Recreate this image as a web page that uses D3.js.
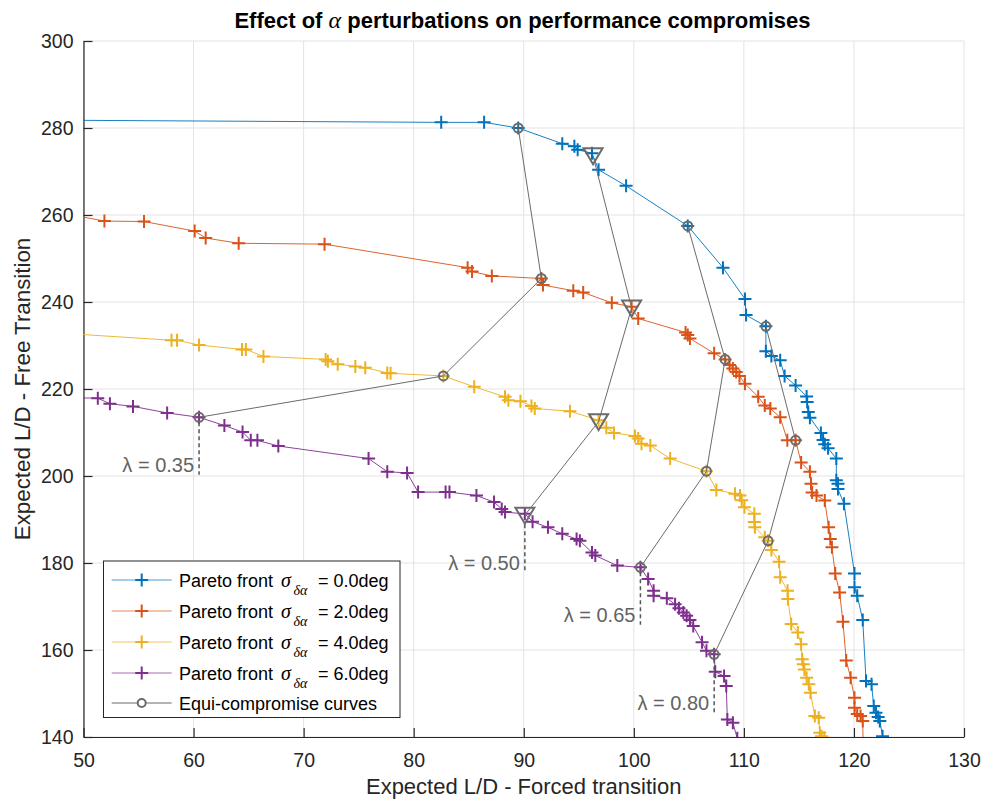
<!DOCTYPE html>
<html>
<head>
<meta charset="utf-8">
<script src="https://cdn.jsdelivr.net/npm/d3@7"></script>
<style>
  html, body { margin: 0; padding: 0; background: #fff; }
  svg { display: block; font-family: "Liberation Sans", Arial, Helvetica, sans-serif; }
</style>
</head>
<body>
<svg id="chart" width="983" height="800"></svg>
<script>
// ---------------- DATA ----------------
const seriesNames = ["0.0deg", "2.0deg", "4.0deg", "6.0deg"];
const seriesColors = ["#0072BD", "#D95319", "#EDB120", "#7E2F8E"];

const front0 = [[47,281.8],[82.5,281.3],[86.4,281.3],[89.5,280.0],[93.5,276.4],[94.6,275.8],[94.9,275.0],[96.2,274.2],[96.8,270.4],[99.3,266.7],[104.9,257.5],[108.1,247.9],[110.1,240.7],[110.2,237.0],[112.0,234.4],[112.0,228.7],[112.5,227.6],[113.3,226.6],[113.7,223.0],[114.7,220.8],[115.7,218.3],[115.75,217.0],[115.85,214.7],[116.0,213.4],[117.0,209.9],[117.2,208.3],[117.35,207.3],[117.65,206.4],[118.4,204.0],[118.4,199.0],[118.55,198.2],[118.55,197.0],[119.1,193.6],[120.05,177.6],[120.05,174.4],[120.3,172.5],[120.8,166.9],[121.1,152.9],[121.6,152.1],[121.8,147.1],[122.0,145.6],[122.2,144.6],[122.35,143.7],[122.6,140.2]];

const front2 = [[49,260.0],[51.9,258.6],[55.5,258.5],[60.1,256.3],[61.1,254.7],[64.1,253.5],[71.9,253.3],[84.9,247.9],[85.3,247.0],[87.1,246.0],[91.6,245.4],[91.75,243.9],[94.5,242.6],[95.4,242.2],[98.0,239.8],[99.8,238.9],[100.4,236.2],[104.7,233.0],[104.9,232.4],[105.1,231.6],[107.3,228.2],[108.3,226.8],[108.7,225.5],[109.0,224.7],[109.3,223.9],[109.6,223.0],[110.1,221.2],[111.3,218.2],[111.9,216.2],[112.4,215.5],[113.3,213.5],[113.95,208.2],[114.7,208.2],[115.2,203.1],[116.0,201.0],[116.1,198.2],[116.2,196.2],[116.6,195.5],[117.35,194.35],[117.7,188.2],[117.85,185.5],[118.0,183.6],[118.3,177.6],[118.7,173.2],[119.0,166.5],[119.3,157.6],[119.7,153.6],[120.05,149.0],[120.05,146.7],[120.3,145.3],[120.6,144.8],[120.8,143.7],[120.85,135]];

const front4 = [[47,233.0],[58.0,231.2],[58.5,231.2],[60.5,230.1],[64.4,229.1],[64.75,229.1],[66.35,227.5],[72.0,226.8],[72.2,226.4],[73.1,225.7],[74.7,225.2],[75.6,224.9],[77.6,223.7],[77.9,223.6],[82.7,223.0],[85.5,220.5],[88.3,218.2],[88.6,217.4],[89.7,217.2],[90.7,216.1],[91.0,215.5],[94.2,214.9],[96.8,212.8],[97.5,211.1],[98.2,209.9],[100.1,209.2],[100.4,208.6],[100.7,207.4],[101.5,207.0],[103.3,204.0],[106.6,201.1],[107.5,196.8],[109.2,195.9],[109.65,195.5],[109.8,194.4],[110.05,192.8],[110.95,191.3],[110.95,189.4],[111.0,188.2],[111.9,185.9],[112.2,185.1],[112.5,183.0],[113.2,180.3],[113.3,176.7],[113.97,173.6],[114.0,171.7],[114.3,166.0],[114.9,164.0],[115.2,161.3],[115.3,157.9],[115.4,156.7],[115.5,155.5],[115.7,153.6],[115.9,152.1],[116.05,150.2],[116.45,144.8],[116.8,144.4],[116.9,141.0],[117.06,140.2],[117.3,139.8]];

const front6 = [[48.5,218.0],[51.3,217.9],[52.4,216.6],[54.5,216.0],[57.6,214.5],[60.5,213.5],[62.8,211.6],[64.45,210.1],[65.2,208.2],[65.8,208.2],[67.7,206.9],[75.9,204.0],[77.6,201.0],[79.4,200.7],[80.4,196.3],[82.9,196.3],[83.25,196.3],[85.7,195.5],[87.3,194.0],[88.0,192.4],[88.3,191.7],[90.1,191.3],[90.8,189.5],[92.2,188.2],[93.5,186.7],[94.8,185.5],[95.1,185.1],[96.2,182.4],[96.5,181.7],[98.5,179.4],[100.6,179.0],[101.3,176.3],[101.8,173.6],[101.8,172.5],[103.0,171.9],[103.75,170.5],[104.1,169.6],[104.5,168.6],[104.8,167.9],[105.1,166.9],[105.4,165.5],[106.2,161.8],[106.6,159.8],[107.3,159.0],[107.4,155.0],[108.2,154.0],[108.4,151.7],[108.5,144.0],[109.0,143.3],[109.4,139.7]];

const fronts = [front0, front2, front4, front6];

// Equi-compromise curves (one point per front: sigma 0, 2, 4, 6)
const lambdas = [0.35, 0.50, 0.65, 0.80];
const equi035 = [[89.5,280.0],[91.6,245.4],[82.7,223.0],[60.5,213.5]];
const equi050 = [[96.3,273.6],[99.8,238.6],[96.8,212.5],[90.1,191.0]];
const equi065 = [[104.9,257.5],[108.3,226.8],[106.6,201.1],[100.6,179.0]];
const equi080 = [[112.0,234.4],[114.7,208.2],[112.2,185.1],[107.3,159.0]];
const equiCurves = [equi035, equi050, equi065, equi080];
const equiMarkers = ["circle", "triangle", "circle", "circle"];
// lambda annotation: dashed drop line lower end (y value)
const lambdaDropEnd = [200.3, 177.8, 165.8, 145.5];

const xTicks = [50,60,70,80,90,100,110,120,130];
const yTicks = [140,160,180,200,220,240,260,280,300];

// ---------------- CHART ----------------
const svg = d3.select("#chart");
const x = d3.scaleLinear().domain([50,130]).range([83.5,964]);
const y = d3.scaleLinear().domain([140,300]).range([737,41]);

svg.append("defs").append("clipPath").attr("id","plotclip")
  .append("rect").attr("x",83.5).attr("y",41).attr("width",964-83.5).attr("height",737-41);

// grid
const grid = svg.append("g");
grid.selectAll(".gx").data(xTicks).enter().append("line")
  .attr("x1",d=>x(d)).attr("x2",d=>x(d)).attr("y1",y(140)).attr("y2",y(300))
  .attr("stroke","#e3e3e3").attr("stroke-width",1);
grid.selectAll(".gy").data(yTicks).enter().append("line")
  .attr("y1",d=>y(d)).attr("y2",d=>y(d)).attr("x1",x(50)).attr("x2",x(130))
  .attr("stroke","#e3e3e3").attr("stroke-width",1);

// axes
const xAxis = svg.append("g").attr("transform",`translate(0,${y(140)})`)
  .call(d3.axisBottom(x).tickValues(xTicks).tickSizeInner(-9).tickSizeOuter(0).tickPadding(16));
const yAxis = svg.append("g").attr("transform",`translate(${x(50)},0)`)
  .call(d3.axisLeft(y).tickValues(yTicks).tickSizeInner(-9).tickSizeOuter(0).tickPadding(10));
[xAxis,yAxis].forEach(a=>{
  a.select(".domain").attr("stroke","#262626").attr("stroke-width",1.2);
  a.selectAll(".tick line").attr("stroke","#262626").attr("stroke-width",1.2);
  a.selectAll(".tick text").attr("fill","#262626").attr("font-size",19.5)
    .attr("font-family","'Liberation Sans', Arial, sans-serif");
});

const plot = svg.append("g").attr("clip-path","url(#plotclip)");
const line = d3.line().x(d=>x(d[0])).y(d=>y(d[1]));
const crossPath = "M-6.5,0H6.5M0,-6.5V6.5";

// fronts
fronts.forEach((f,i)=>{
  plot.append("path").datum(f).attr("d",line).attr("fill","none")
    .attr("stroke",seriesColors[i]).attr("stroke-width",1).attr("stroke-opacity",0.9);
  plot.selectAll(null).data(f).enter().append("path")
    .attr("transform",d=>`translate(${x(d[0])},${y(d[1])})`)
    .attr("d",crossPath).attr("stroke",seriesColors[i]).attr("stroke-width",2).attr("fill","none");
});

// equi-compromise curves
const equiColor = "#6b6b6b";
equiCurves.forEach((c,i)=>{
  plot.append("path").datum(c).attr("d",line).attr("fill","none")
    .attr("stroke",equiColor).attr("stroke-width",1);
  if (equiMarkers[i]==="circle") {
    plot.selectAll(null).data(c).enter().append("circle")
      .attr("cx",d=>x(d[0])).attr("cy",d=>y(d[1])).attr("r",4.5)
      .attr("fill","none").attr("stroke",equiColor).attr("stroke-width",2);
  } else {
    plot.selectAll(null).data(c).enter().append("path")
      .attr("transform",d=>`translate(${x(d[0])},${y(d[1])})`)
      .attr("d","M-9.5,-7.5L9.5,-7.5L0,8.5Z")
      .attr("fill","none").attr("stroke",equiColor).attr("stroke-width",2).attr("stroke-linejoin","miter");
  }
});

// lambda annotations (from purple-front point)
lambdas.forEach((l,i)=>{
  const p = equiCurves[i][3];
  svg.append("line").attr("x1",x(p[0])).attr("x2",x(p[0]))
    .attr("y1",y(p[1])+ (equiMarkers[i]==="triangle"?9:5)).attr("y2",y(lambdaDropEnd[i]))
    .attr("stroke","#555").attr("stroke-width",1.5).attr("stroke-dasharray","4,3");
  svg.append("text").attr("x",x(p[0])-5).attr("y",y(lambdaDropEnd[i])-3)
    .attr("text-anchor","end").attr("font-size",20).attr("fill","#636363")
    .text(`λ = ${l.toFixed(2)}`);
});

// title
const title = svg.append("text").attr("x",522.5).attr("y",28).attr("text-anchor","middle")
  .attr("font-size",22).attr("font-weight","bold").attr("fill","#000");
title.append("tspan").text("Effect of ");
title.append("tspan").attr("font-family","'Liberation Serif','DejaVu Serif',serif")
  .attr("font-style","italic").attr("font-weight","normal").attr("font-size",24).text("α");
title.append("tspan").text(" perturbations on performance compromises");

// axis labels
svg.append("text").attr("x",523.7).attr("y",794).attr("text-anchor","middle")
  .attr("font-size",22).attr("fill","#262626").text("Expected L/D - Forced transition");
svg.append("text").attr("transform","translate(30,389) rotate(-90)").attr("text-anchor","middle")
  .attr("font-size",22.3).attr("fill","#262626").text("Expected L/D - Free Transition");

// legend
const lg = svg.append("g");
lg.append("rect").attr("x",103.5).attr("y",561).attr("width",296.5).attr("height",156.5)
  .attr("fill","#fff").attr("stroke","#262626").attr("stroke-width",1);
const rowsY = [580, 611, 642, 673, 703];
seriesNames.forEach((n,i)=>{
  const ry = rowsY[i];
  lg.append("line").attr("x1",111.7).attr("x2",171.7).attr("y1",ry).attr("y2",ry)
    .attr("stroke",seriesColors[i]).attr("stroke-width",1).attr("stroke-opacity",0.7);
  lg.append("path").attr("transform",`translate(141.7,${ry})`).attr("d",crossPath)
    .attr("stroke",seriesColors[i]).attr("stroke-width",2);
  const t = lg.append("text").attr("x",179).attr("y",ry+6.5).attr("font-size",18).attr("fill","#000");
  t.append("tspan").text("Pareto front");
  t.append("tspan").attr("x",281).attr("font-family","'Liberation Serif','DejaVu Serif',serif")
    .attr("font-style","italic").attr("font-size",20).text("σ");
  t.append("tspan").attr("x",293.5).attr("dy",8.5).attr("font-family","'Liberation Serif','DejaVu Serif',serif")
    .attr("font-style","italic").attr("font-size",14).text("δα");
  t.append("tspan").attr("x",318).attr("dy",-8.5).text("= " + n);
});
{
  const ry = rowsY[4];
  lg.append("line").attr("x1",111.7).attr("x2",171.7).attr("y1",ry).attr("y2",ry)
    .attr("stroke",equiColor).attr("stroke-width",1);
  lg.append("circle").attr("cx",141.7).attr("cy",ry).attr("r",4)
    .attr("fill","#fff").attr("stroke",equiColor).attr("stroke-width",2);
  lg.append("text").attr("x",179).attr("y",ry+6.5).attr("font-size",18).attr("fill","#000")
    .text("Equi-compromise curves");
}
</script>
</body>
</html>
